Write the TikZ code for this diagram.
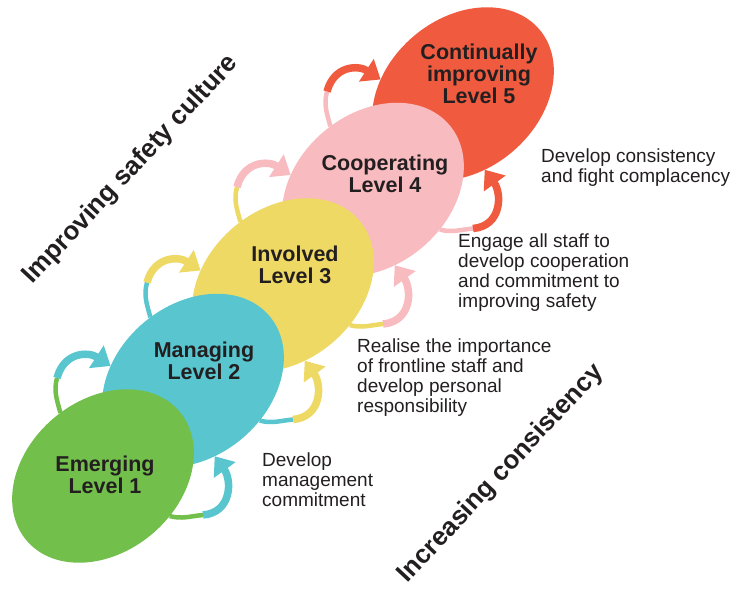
\documentclass[tikz,border=0pt]{standalone}
\usepackage{fontspec}
\setmainfont{Liberation Sans}
\usepackage{xcolor}
\usepackage{tikz}
\usetikzlibrary{arrows.meta,calc,shapes.geometric,positioning}
\definecolor{lvlone}{HTML}{72BF4B}
\definecolor{lvltwo}{HTML}{59C5CF}
\definecolor{lvlthree}{HTML}{EDD964}
\definecolor{lvlfour}{HTML}{F8BBBF}
\definecolor{lvlfive}{HTML}{F05B40}
\definecolor{ink}{HTML}{231F20}
\tikzstyle{stage}=[ellipse, draw=none, minimum width=200pt, minimum height=152pt, inner sep=0pt, outer sep=0pt, rotate=40]
\tikzstyle{lvltext}=[align=center, text=ink, font=\fontsize{21.5}{21.7}\selectfont\bfseries]
\tikzstyle{sidenote}=[align=left, anchor=north west, inner sep=0pt, text=ink, font=\fontsize{19}{19.8}\selectfont]
\tikzstyle{axistext}=[rotate=47, text=ink, font=\fontsize{26}{28}\selectfont\bfseries]
\tikzstyle{arrtail}=[line width=4.5pt]
\tikzstyle{arrhead}=[line width=7.5pt, -{Triangle[length=17pt,width=26pt]}]

\begin{document}
\begin{tikzpicture}[x=1pt,y=1pt]
\useasboundingbox (0,0) rectangle (744,590);
% top level first, so the lower levels lie over it
\node[stage, fill=lvlfive] (e5) at (463,496) {};
\node[stage, fill=lvlfour] (e4) at (373,400.5) {};
\node[stage, fill=lvlthree] (e3) at (283,305) {};
\node[stage, fill=lvltwo] (e2) at (193,209.5) {};
\node[stage, fill=lvlone] (e1) at (103,114) {};
\node[lvltext] (t1) at (105,115) {Emerging\\Level 1};
\node[lvltext] (t2) at (204,229) {Managing\\Level 2};
\node[lvltext] (t3) at (295,325) {Involved\\Level 3};
\node[lvltext] (t4) at (385,416) {Cooperating\\Level 4};
\node[lvltext] (t5) at (479,516) {Continually\\improving\\Level 5};
% 1 -> 2
\coordinate (a1) at ($(e1)+(-46,98)$);
\coordinate (b1) at ($(e1)+(100,-39)$);
\draw[arrtail, lvlone] (e1.84) to[out=105,in=255] (a1);
\draw[arrhead, lvltwo] (a1) to[out=75,in=147,looseness=1.25] (e2.130);
\draw[arrtail, lvlone] (e1.289) to[out=-15,in=185] (b1);
\draw[arrhead, lvltwo] (b1) to[out=5,in=-54,looseness=1.25] (e2.246);
% 2 -> 3
\coordinate (a2) at ($(e2)+(-46,98)$);
\coordinate (b2) at ($(e2)+(100,-39)$);
\draw[arrtail, lvltwo] (e2.84) to[out=105,in=255] (a2);
\draw[arrhead, lvlthree] (a2) to[out=75,in=147,looseness=1.25] (e3.130);
\draw[arrtail, lvltwo] (e2.289) to[out=-15,in=185] (b2);
\draw[arrhead, lvlthree] (b2) to[out=5,in=-54,looseness=1.25] (e3.246);
% 3 -> 4
\coordinate (a3) at ($(e3)+(-46,98)$);
\coordinate (b3) at ($(e3)+(100,-39)$);
\draw[arrtail, lvlthree] (e3.84) to[out=105,in=255] (a3);
\draw[arrhead, lvlfour] (a3) to[out=75,in=147,looseness=1.25] (e4.130);
\draw[arrtail, lvlthree] (e3.289) to[out=-15,in=185] (b3);
\draw[arrhead, lvlfour] (b3) to[out=5,in=-54,looseness=1.25] (e4.246);
% 4 -> 5
\coordinate (a4) at ($(e4)+(-46,98)$);
\coordinate (b4) at ($(e4)+(100,-39)$);
\draw[arrtail, lvlfour] (e4.84) to[out=105,in=255] (a4);
\draw[arrhead, lvlfive] (a4) to[out=75,in=147,looseness=1.25] (e5.130);
\draw[arrtail, lvlfour] (e4.289) to[out=-15,in=185] (b4);
\draw[arrhead, lvlfive] (b4) to[out=5,in=-54,looseness=1.25] (e5.246);
% notes beside the steps
\node[sidenote] (n1) at (262,137) {Develop\\management\\commitment};
\node[sidenote] (n2) at (357,251) {Realise the importance\\of frontline staff and\\develop personal\\responsibility};
\node[sidenote] (n3) at (458,356) {Engage all staff to\\develop cooperation\\and commitment to\\improving safety};
\node[sidenote] (n4) at (541,441) {Develop consistency\\and fight complacency};
\node[axistext] (up) at (131,420) {Improving safety culture};
\node[axistext] (across) at (501,116) {Increasing consistency};
\end{tikzpicture}
\end{document}
